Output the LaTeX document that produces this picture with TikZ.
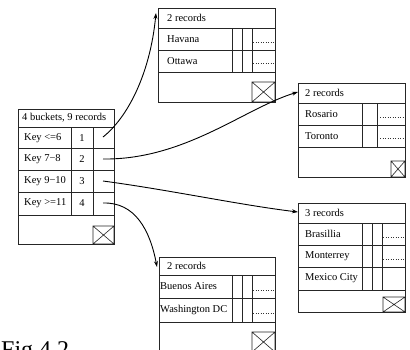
\documentclass[tikz,border=0pt]{standalone}
\usepackage{fontspec}
\setmainfont{Liberation Serif}
\usetikzlibrary{arrows.meta}
\begin{document}
\begin{tikzpicture}[x=1pt,y=-1pt,
  frame/.style={draw=black!85, line width=0.6pt},
  txt/.style={anchor=west, inner sep=0pt, font=\fontsize{10.5}{12}\selectfont},
  num/.style={inner sep=0pt, font=\fontsize{10.5}{12}\selectfont},
  dots/.style={draw=black!80, dotted, line width=0.5pt},
  link/.style={draw, line width=0.9pt, -{Stealth[length=6pt,width=4pt]}}]
\useasboundingbox (0,0) rectangle (410,349);
\clip (0,0) rectangle (410,349);
\fill[white] (0,0) rectangle (410,349);

% ---- bucket directory ----
\draw[frame] (18,109) rectangle (114,244);
\draw[frame] (18,127) -- (114,127) (18,148) -- (114,148) (18,170) -- (114,170)
  (18,192) -- (114,192) (18,215) -- (114,215)
  (71,127) -- (71,215) (93,127) -- (93,215);
\draw[frame] (93,226) rectangle (114,244) (93,226) -- (114,244) (93,244) -- (114,226);
\node[txt] (dh) at (22,118) {4 buckets, 9 records};
\node[txt] (k1) at (24,138) {Key <=6};
\node[txt] (k2) at (24,159) {Key 7−8};
\node[txt] (k3) at (24,181) {Key 9−10};
\node[txt] (k4) at (24,203.5) {Key >=11};
\node[num] (n1) at (82,138) {1};
\node[num] (n2) at (82,159) {2};
\node[num] (n3) at (82,181) {3};
\node[num] (n4) at (82,203.5) {4};

% ---- bucket 1 ----
\draw[frame] (158,8) rectangle (275,102);
\draw[frame] (158,28) -- (275,28) (158,50) -- (275,50) (158,72) -- (275,72)
  (232,28) -- (232,72) (242,28) -- (242,72) (252,28) -- (252,72);
\draw[dots] (253,42) -- (275,42) (253,63) -- (275,63);
\draw[frame] (252,82) rectangle (275,102) (252,82) -- (275,102) (252,102) -- (275,82);
\node[txt] (b1h) at (167,18) {2 records};
\node[txt] (b1a) at (167,39) {Havana};
\node[txt] (b1b) at (167,61) {Ottawa};

% ---- bucket 2 ----
\draw[frame] (298,83) rectangle (405,177);
\draw[frame] (298,103) -- (405,103) (298,125) -- (405,125) (298,147) -- (405,147)
  (362,103) -- (362,147) (377,103) -- (377,147);
\draw[dots] (380,117) -- (405,117) (380,138) -- (405,138);
\draw[frame] (391,161) rectangle (405,177) (391,161) -- (405,177) (391,177) -- (405,161);
\node[txt] (b2h) at (305,93) {2 records};
\node[txt] (b2a) at (305,114) {Rosario};
\node[txt] (b2b) at (305,136) {Toronto};

% ---- bucket 3 ----
\draw[frame] (298,203) rectangle (405,312);
\draw[frame] (298,223) -- (405,223) (298,245) -- (405,245) (298,267) -- (405,267)
  (298,290) -- (405,290)
  (362,223) -- (362,290) (372,223) -- (372,290) (382,223) -- (382,290);
\draw[dots] (383,237) -- (405,237) (383,259) -- (405,259);
\draw[frame] (383,297) rectangle (405,312) (383,297) -- (405,312) (383,312) -- (405,297);
\node[txt] (b3h) at (305,213) {3 records};
\node[txt] (b3a) at (305,234) {Brasillia};
\node[txt] (b3b) at (305,256) {Monterrey};
\node[txt] (b3c) at (305,278.5) {Mexico City};

% ---- bucket 4 ----
\draw[frame] (159,257) rectangle (275,362);
\draw[frame] (159,275) -- (275,275) (159,298) -- (275,298) (159,322) -- (275,322)
  (232,275) -- (232,322) (242,275) -- (242,322) (252,275) -- (252,322);
\draw[dots] (253,290) -- (275,290) (253,313) -- (275,313);
\draw[frame] (252,332) rectangle (275,352) (252,332) -- (275,352) (252,352) -- (275,332);
\node[txt] (b4h) at (167,266) {2 records};
\node[txt] (b4a) at (160,286.5) {Buenos Aires};
\node[txt] (b4b) at (160,310) {Washington DC};

% ---- caption (cut by the page edge) ----
\node[anchor=base west, inner sep=0pt, font=\fontsize{24}{28}\selectfont] (cap) at (1,357) {Fig 4.2};

% ---- pointers ----
\coordinate (s1) at (103,137);
\coordinate (s2) at (103,159);
\coordinate (s3) at (103,181);
\coordinate (s4) at (103,203);
\coordinate (t1) at (156,13);
\coordinate (t2) at (298,92);
\coordinate (t3) at (298,212);
\coordinate (t4) at (157,267);
\draw[link] (s1) .. controls (127,118) and (150,75) .. (t1);
\draw[link] (s2) .. controls (185,160) and (245,108) .. (t2);
\draw[link] (s3) .. controls (170,190) and (240,205) .. (t3);
\draw[link] (s4) .. controls (135,202) and (150,230) .. (t4);
\end{tikzpicture}
\end{document}
